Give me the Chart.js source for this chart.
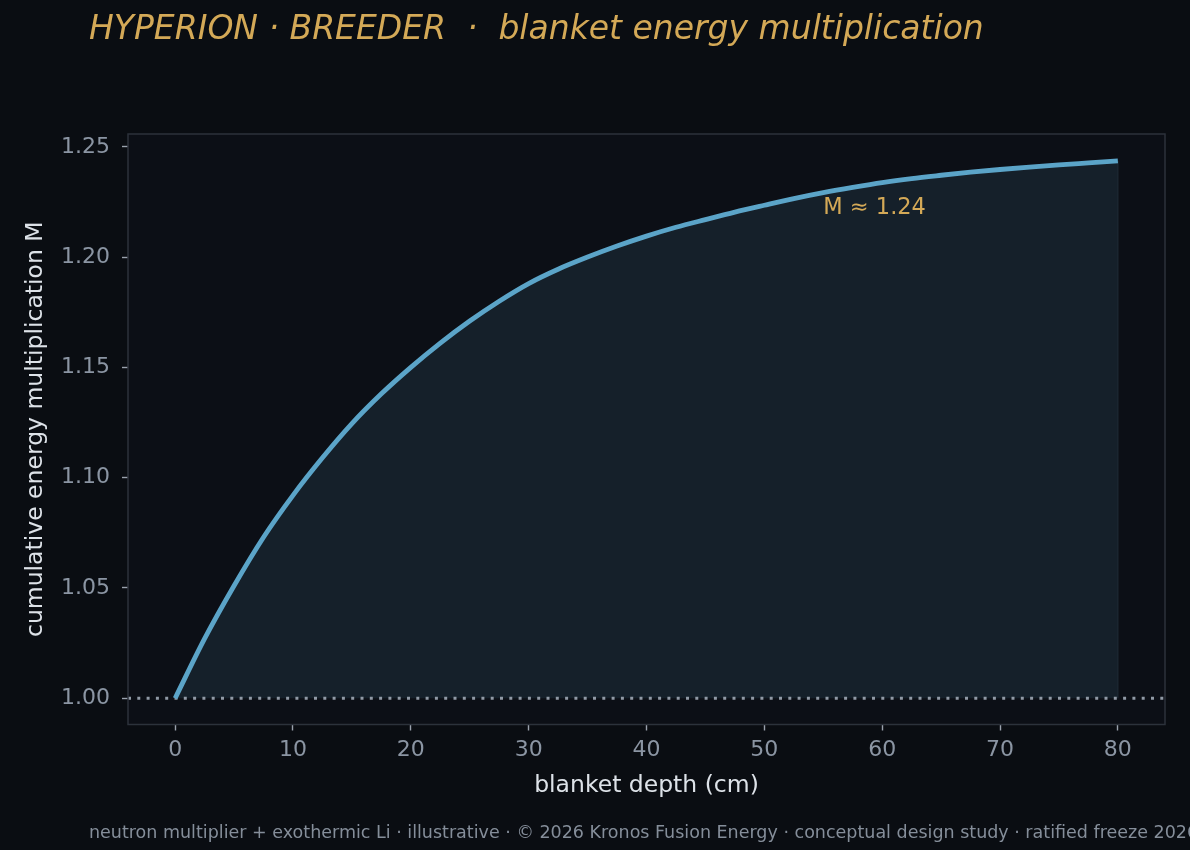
<!DOCTYPE html>
<html>
<head>
<meta charset="utf-8">
<script src="https://cdn.jsdelivr.net/npm/chart.js@4.4.1/dist/chart.umd.min.js"></script>
<style>
  html, body { margin: 0; padding: 0; background: #0a0d12; overflow: hidden; }
  #wrap { width: 1190px; height: 850px; }
</style>
</head>
<body>
<div id="wrap"><canvas id="c" width="1190" height="850"></canvas></div>
<script>
// ---- data ----
const depthCm = [0, 2.5, 5, 7.5, 10, 12.5, 15, 17.5, 20, 22.5, 25, 27.5, 30, 32.5, 35, 37.5, 40, 42.5, 45, 47.5, 50, 52.5, 55, 57.5, 60, 62.5, 65, 67.5, 70, 72.5, 75, 77.5, 80];
const multM   = [1.000, 1.027, 1.051, 1.073, 1.092, 1.109, 1.1245, 1.138, 1.150, 1.161, 1.171, 1.180, 1.188, 1.1945, 1.2000, 1.2050, 1.2095, 1.2135, 1.2170, 1.2204, 1.2235, 1.2265, 1.2292, 1.2316, 1.2338, 1.2356, 1.2371, 1.2385, 1.2397, 1.2408, 1.2418, 1.2427, 1.2436];
const xTicks  = [0, 10, 20, 30, 40, 50, 60, 70, 80];
const yTicks  = [1.00, 1.05, 1.10, 1.15, 1.20, 1.25];
const xRange  = [-4, 84];
const yRange  = [0.9881, 1.2558];
const baselineM = 1.0;
const annotX = 55, annotY = 1.2222;
const annotText = 'M ≈ 1.24';
const titleText = 'HYPERION · BREEDER  ·  blanket energy multiplication';
const footerText = 'neutron multiplier + exothermic Li · illustrative · © 2026 Kronos Fusion Energy · conceptual design study · ratified freeze 2026';
const xTitle = 'blanket depth (cm)';
const yTitle = 'cumulative energy multiplication M';

const FONT = "'DejaVu Sans', 'Liberation Sans', sans-serif";
Chart.defaults.font.family = FONT;

const curvePts = depthCm.map((x, i) => ({ x: x, y: multM[i] }));
const basePts = [{ x: xRange[0], y: baselineM }, { x: xRange[1], y: baselineM }];
const lastX = depthCm[depthCm.length - 1], lastY = multM[multM.length - 1];
const edgePts = [{ x: lastX, y: baselineM }, { x: lastX, y: lastY }];

const decor = {
  id: 'decor',
  beforeDraw(chart) {
    const { ctx, chartArea: a } = chart;
    ctx.save();
    ctx.fillStyle = '#0a0d12';
    ctx.fillRect(0, 0, chart.width, chart.height);
    ctx.fillStyle = '#0c0f16';
    ctx.fillRect(a.left, a.top, a.right - a.left, a.bottom - a.top);
    ctx.restore();
  },
  afterDraw(chart) {
    const { ctx, chartArea: a, scales } = chart;
    ctx.save();
    // frame
    ctx.strokeStyle = '#2c323b';
    ctx.lineWidth = 1.5;
    ctx.strokeRect(a.left, a.top, a.right - a.left, a.bottom - a.top);
    // annotation
    ctx.fillStyle = '#d4a957';
    ctx.font = '22.5px ' + FONT;
    ctx.textBaseline = 'middle';
    ctx.textAlign = 'left';
    ctx.fillText(annotText, scales.x.getPixelForValue(annotX), scales.y.getPixelForValue(annotY));
    // title
    ctx.font = 'italic 33px ' + FONT;
    ctx.fillStyle = '#d4a957';
    ctx.fillText(titleText, 89, 30);
    // footer
    ctx.font = '17.5px ' + FONT;
    ctx.fillStyle = '#858e9a';
    ctx.fillText(footerText, 89, 833);
    ctx.restore();
  }
};

new Chart(document.getElementById('c'), {
  type: 'line',
  data: {
    datasets: [
      {
        data: curvePts,
        borderColor: '#5ba4c8',
        borderWidth: 4.8,
        pointRadius: 0,
        cubicInterpolationMode: 'monotone',
        fill: { value: baselineM },
        backgroundColor: '#15202a',
        order: 0
      },
      {
        data: basePts,
        borderColor: '#919aa6',
        borderWidth: 3,
        borderDash: [3, 6.3],
        pointRadius: 0,
        fill: false,
        order: 1
      },
      {
        data: edgePts,
        borderColor: '#1e2a35',
        borderWidth: 1.2,
        pointRadius: 0,
        fill: false,
        order: 2
      }
    ]
  },
  options: {
    responsive: false,
    animation: false,
    events: [],
    layout: { padding: { top: 134, right: 25, left: 0, bottom: 0 } },
    plugins: {
      legend: { display: false }, tooltip: { enabled: false }, title: { display: false },
      filler: { drawTime: 'beforeDatasetsDraw' }
    },
    scales: {
      x: {
        type: 'linear',
        min: xRange[0], max: xRange[1],
        afterBuildTicks: s => { s.ticks = xTicks.map(v => ({ value: v })); },
        afterFit: s => { s.height = 125.5; },
        ticks: { color: '#8b95a3', font: { size: 22 }, padding: 7, maxRotation: 0, autoSkip: false, callback: v => String(v) },
        grid: { display: true, drawOnChartArea: false, drawTicks: true, tickLength: 6, tickColor: '#9aa2ad', tickWidth: 1.4 },
        border: { display: false },
        title: { display: true, text: xTitle, color: '#dde2e8', font: { size: 23.5 }, padding: { top: 0, bottom: 50 } }
      },
      y: {
        type: 'linear',
        min: yRange[0], max: yRange[1],
        afterBuildTicks: s => { s.ticks = yTicks.map(v => ({ value: v })); },
        afterFit: s => { s.width = 128; },
        ticks: { color: '#8b95a3', font: { size: 22 }, padding: 12, autoSkip: false, callback: v => Number(v).toFixed(2) },
        grid: { display: true, drawOnChartArea: false, drawTicks: true, tickLength: 6, tickColor: '#9aa2ad', tickWidth: 1.4 },
        border: { display: false },
        title: { display: true, text: yTitle, color: '#dde2e8', font: { size: 23.5 }, padding: { top: 22, bottom: 0 } }
      }
    }
  },
  plugins: [decor]
});
</script>
</body>
</html>
